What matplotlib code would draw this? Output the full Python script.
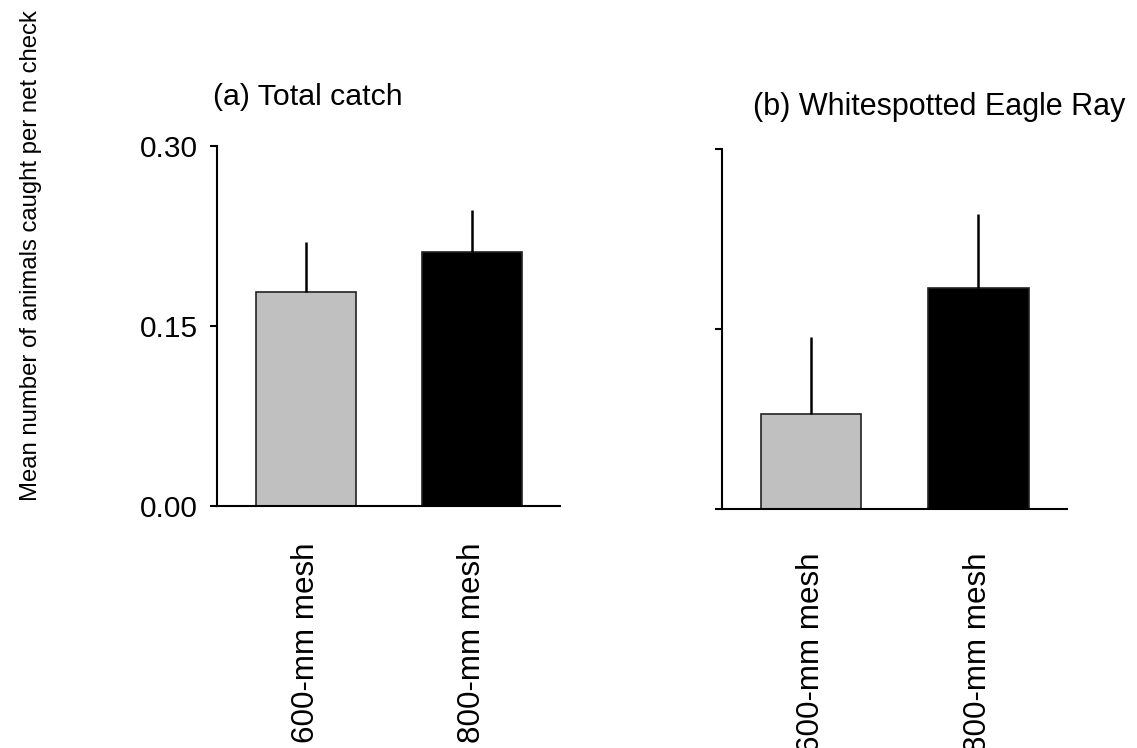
import matplotlib.pyplot as plt
import numpy as np

plt.rcParams['font.family'] = ['Liberation Sans', 'DejaVu Sans']

labels = ['600-mm mesh', '800-mm mesh']
colors = ['#c0c0c0', '#000000']

# (a) total catch
total_mean = [0.178, 0.212]
total_se = [0.042, 0.035]

# (b) whitespotted eagle ray
ray_mean = [0.079, 0.184]
ray_se = [0.064, 0.062]

fig = plt.figure(figsize=(11.37, 7.48), dpi=100)
ax1 = fig.add_axes([0.1909, 0.3235, 0.3017, 0.4813])
ax2 = fig.add_axes([0.635, 0.3195, 0.3034, 0.4813])

x = np.arange(len(labels))
fs = 21.5


def draw(ax, mean, se, title, show_labels, pad, title_x, title_y):
    ax.bar(x, mean, width=0.6, color=colors, edgecolor='#222222', linewidth=1.2, zorder=2)
    ax.errorbar(x, mean, yerr=[np.zeros(len(se)), se], fmt='none',
                ecolor='black', elinewidth=1.8, capsize=0, zorder=3)
    ax.set_xlim(-0.535, 1.53)
    ax.set_ylim(0, 0.30)
    ax.set_yticks([0.0, 0.15, 0.30])
    if show_labels:
        ax.set_yticklabels(['0.00', '0.15', '0.30'])
    else:
        ax.set_yticklabels([])
    ax.set_xticks(x)
    ax.set_xticklabels(labels, rotation=90)
    for s in ['top', 'right']:
        ax.spines[s].set_visible(False)
    for s in ['left', 'bottom']:
        ax.spines[s].set_linewidth(1.5)
    ax.tick_params(axis='y', direction='out', length=5, width=1.5, labelsize=fs, pad=9)
    ax.tick_params(axis='x', length=0, labelsize=22.6, pad=pad)
    ax.text(title_x, title_y, title, transform=ax.transAxes, fontsize=fs,
            ha='left', va='center')


draw(ax1, total_mean, total_se, '(a) Total catch', True, 26, -0.012, 1.137)
ax1.texts[0].set_fontsize(21.8)
draw(ax2, ray_mean, ray_se, '(b) Whitespotted Eagle Ray', False, 31, 0.09, 1.117)
ax2.texts[0].set_fontsize(22)

fig.text(0.027, 0.659, 'Mean number of animals caught per net check', rotation=90,
         fontsize=17.2, ha='center', va='center')

fig.savefig('out.png', dpi=100)
